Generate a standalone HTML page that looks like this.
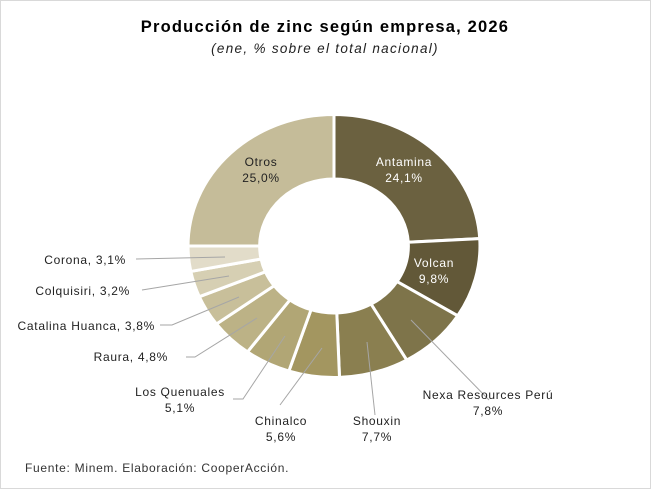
<!DOCTYPE html>
<html><head><meta charset="utf-8"><style>
html,body{margin:0;padding:0;background:#fff}
body{width:651px;height:489px;position:relative;overflow:hidden;font-family:"Liberation Sans",sans-serif}
.frame{position:absolute;left:0;top:0;width:649px;height:487px;border:1px solid #d9d9d9}
</style></head><body>
<div class="frame"></div>
<svg width="651" height="489" style="position:absolute;left:0;top:0" font-family="Liberation Sans, sans-serif">
<text x="325" y="32" text-anchor="middle" font-size="16.5" font-weight="bold" letter-spacing="1.2" fill="#000">Producción de zinc según empresa, 2026</text>
<text x="325" y="53" text-anchor="middle" font-size="13.5" font-style="italic" letter-spacing="1.3" fill="#222">(ene, % sobre el total nacional)</text>
<g id="donut"></g>
<g stroke="#a6a6a6" stroke-width="1" fill="none">
<polyline points="136,259 225,257"/>
<polyline points="142,290 229,276"/>
<polyline points="160,325 172,325 239,297"/>
<polyline points="186,357 195,357 257,318"/>
<polyline points="233,399 243,399 285,336"/>
<polyline points="280,405 322,348"/>
<polyline points="375,415 367,342"/>
<polyline points="489,400 411,320"/>
</g>
<g font-size="12" fill="#222" letter-spacing="0.7">
<text x="404" y="166" text-anchor="middle" fill="#fff">Antamina</text>
<text x="404" y="182" text-anchor="middle" fill="#fff">24,1%</text>
<text x="434" y="267" text-anchor="middle" fill="#fff">Volcan</text>
<text x="434" y="283" text-anchor="middle" fill="#fff">9,8%</text>
<text x="261" y="166" text-anchor="middle">Otros</text>
<text x="261" y="182" text-anchor="middle">25,0%</text>
<text x="126" y="264" text-anchor="end">Corona, 3,1%</text>
<text x="130" y="295" text-anchor="end">Colquisiri, 3,2%</text>
<text x="155" y="330" text-anchor="end">Catalina Huanca, 3,8%</text>
<text x="168" y="361" text-anchor="end">Raura, 4,8%</text>
<text x="180" y="396" text-anchor="middle">Los Quenuales</text>
<text x="180" y="412" text-anchor="middle">5,1%</text>
<text x="281" y="425" text-anchor="middle">Chinalco</text>
<text x="281" y="441" text-anchor="middle">5,6%</text>
<text x="377" y="425" text-anchor="middle">Shouxin</text>
<text x="377" y="441" text-anchor="middle">7,7%</text>
<text x="488" y="399" text-anchor="middle">Nexa Resources Perú</text>
<text x="488" y="415" text-anchor="middle">7,8%</text>
<text x="25" y="472" fill="#333">Fuente: Minem. Elaboración: CooperAcción.</text>
</g>
</svg>
<script>
var data=[[24.1,"#6b6140"],[9.8,"#625838"],[7.8,"#7e744a"],[7.7,"#8a7f50"],[5.6,"#a39660"],[5.1,"#b1a675"],[4.8,"#bcb286"],[3.8,"#c8bf9a"],[3.2,"#d6cfb3"],[3.1,"#e2dcc9"],[25.0,"#c5bc99"]];
var cx=334,cy=246,R=131.5,r=67,sx=1.11,a=0,s="";
function pt(rad,ang){return (cx+sx*rad*Math.sin(ang)).toFixed(2)+","+(cy-rad*Math.cos(ang)).toFixed(2);}
data.forEach(function(d){var a2=a+d[0]/100*2*Math.PI;var lg=(a2-a)>Math.PI?1:0;
s+='<path d="M'+pt(R,a)+' A'+(R*sx)+','+R+' 0 '+lg+' 1 '+pt(R,a2)+' L'+pt(r,a2)+' A'+(r*sx)+','+r+' 0 '+lg+' 0 '+pt(r,a)+' Z" fill="'+d[1]+'" stroke="#fff" stroke-width="3"/>';a=a2;});
document.getElementById("donut").innerHTML=s;
</script>
</body></html>
